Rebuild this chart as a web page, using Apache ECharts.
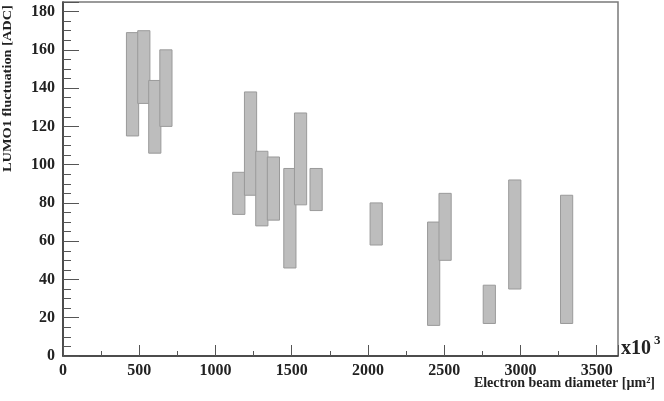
<!DOCTYPE html>
<html>
<head>
<meta charset="utf-8">
<script src="https://cdn.jsdelivr.net/npm/echarts@6/dist/echarts.min.js"></script>
<style>
html,body{margin:0;padding:0;background:#fff;}
#chart{width:664px;height:401px;}
</style>
</head>
<body>
<div id="chart"></div>
<script>
// x centre of each measurement (electron beam diameter, x10^3 µm²)
var xCenters   = [456, 530, 602, 675, 1153, 1230, 1304, 1380, 1488, 1558, 1660, 2054, 2431, 2506, 2796, 2963, 3303];
// lower and upper ends of LUMO1 fluctuation band [ADC]
var lowValues  = [115, 132, 106, 120, 74, 84, 68, 71, 46, 79, 76, 58, 16, 50, 17, 35, 17];
var highValues = [169, 170, 144, 160, 96, 138, 107, 104, 98, 127, 98, 80, 70, 85, 37, 92, 84];
var xTicks = [0, 500, 1000, 1500, 2000, 2500, 3000, 3500];
var yTicks = [0, 20, 40, 60, 80, 100, 120, 140, 160, 180];

var BOX_HALF = 40;
var data = xCenters.map(function (x, i) { return [x, lowValues[i], highValues[i]]; });
var serif = 'Liberation Serif';

var chart = echarts.init(document.getElementById('chart'));
chart.setOption({
  animation: false,
  backgroundColor: '#fff',
  grid: { left: 63, right: 46, top: 2, bottom: 45, show: true, borderColor: '#7a7a7a', borderWidth: 1.5 },
  xAxis: {
    type: 'value', min: 0, max: 3640, interval: 500,
    axisLine: { show: true, lineStyle: { color: '#333', width: 1.5 } },
    axisTick: { show: true, inside: true, length: 11, lineStyle: { color: '#555', width: 1 } },
    minorTick: { show: true, splitNumber: 2, length: 5, lineStyle: { color: '#555', width: 1 } },
    splitLine: { show: false },
    axisLabel: {
      showMaxLabel: false, margin: 7, color: '#222', fontFamily: serif, fontWeight: 'bold', fontSize: 16,
      formatter: function (v) { return xTicks.indexOf(v) >= 0 ? String(v) : ''; }
    }
  },
  yAxis: {
    type: 'value', min: 0, max: 185, interval: 20,
    axisLine: { show: true, lineStyle: { color: '#333', width: 1.5 } },
    axisTick: { show: true, inside: true, length: 16, lineStyle: { color: '#555', width: 1 } },
    minorTick: { show: true, splitNumber: 4, length: 8, lineStyle: { color: '#555', width: 1 } },
    splitLine: { show: false },
    axisLabel: {
      showMaxLabel: false, margin: 8, color: '#222', fontFamily: serif, fontWeight: 'bold', fontSize: 16,
      formatter: function (v) { return yTicks.indexOf(v) >= 0 ? String(v) : ''; }
    }
  },
  series: [{
    type: 'custom',
    data: data,
    encode: { x: 0, y: [1, 2] },
    renderItem: function (params, api) {
      var x = api.value(0), lo = api.value(1), hi = api.value(2);
      var p1 = api.coord([x - BOX_HALF, hi]);
      var p2 = api.coord([x + BOX_HALF, lo]);
      return {
        type: 'rect',
        shape: { x: p1[0], y: p1[1], width: p2[0] - p1[0], height: p2[1] - p1[1] },
        style: { fill: '#bdbdbd', stroke: '#9a9a9a', lineWidth: 1 }
      };
    }
  }],
  graphic: [
    { type: 'text', left: 621, top: 339, style: { text: 'x10', fontFamily: serif, fontWeight: 'bold', fontSize: 20, fill: '#222' } },
    { type: 'text', left: 654, top: 334, style: { text: '3', fontFamily: serif, fontWeight: 'bold', fontSize: 13, fill: '#222' } },
    { type: 'text', right: 9, top: 376, style: { text: 'Electron beam diameter [µm²]', fontFamily: serif, fontWeight: 'bold', fontSize: 14, fill: '#222' } },
    { type: 'text', x: 1, y: 172, rotation: Math.PI / 2, scaleX: 1.15,
      style: { text: 'LUMO1 fluctuation [ADC]', fontFamily: serif, fontWeight: 'bold', fontSize: 12.5, fill: '#222', textAlign: 'left', textVerticalAlign: 'top' } }
  ]
});
</script>
</body>
</html>
